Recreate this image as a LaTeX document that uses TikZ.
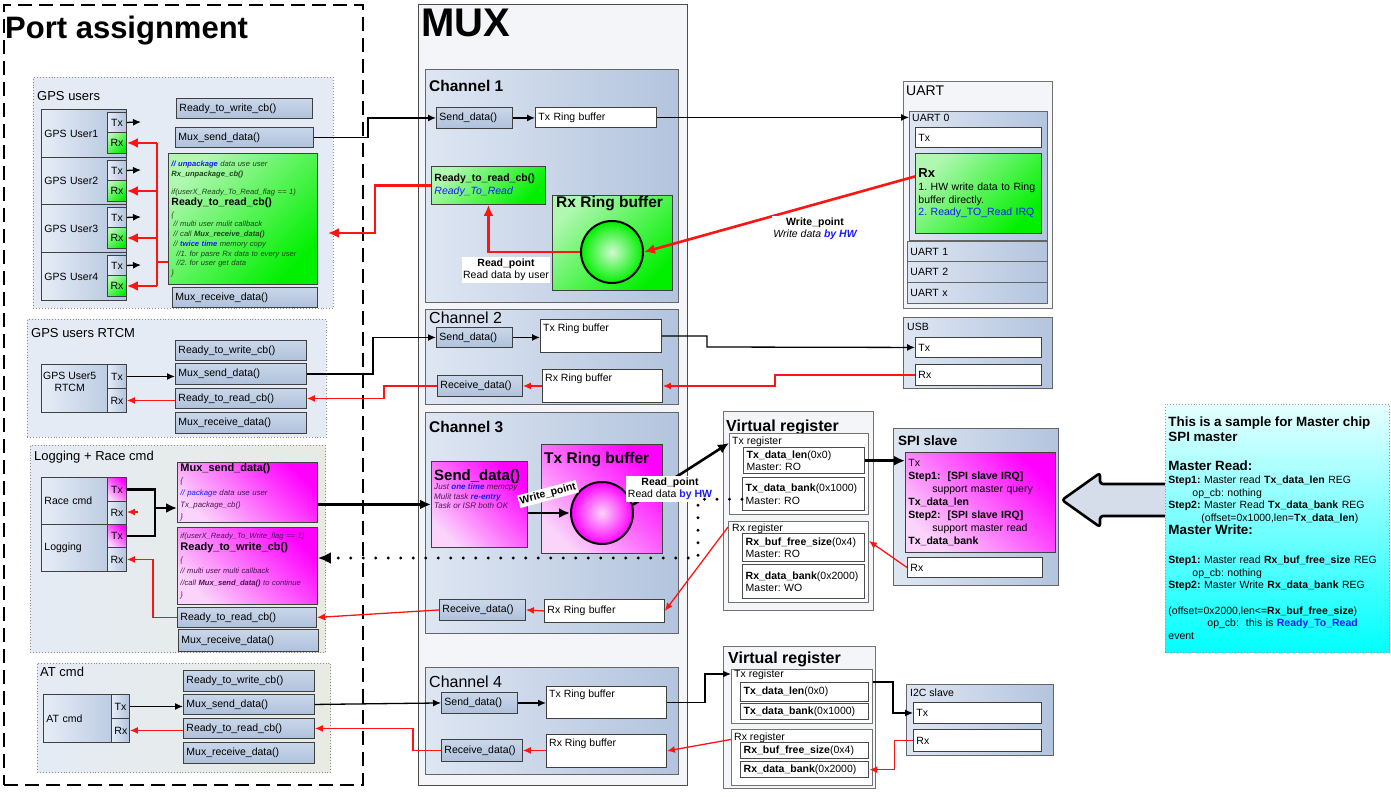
\documentclass[tikz,border=0pt]{standalone}
\usepackage{fontspec}
\setmainfont{Liberation Sans}
\usetikzlibrary{arrows.meta}
\frenchspacing

\definecolor{grpblue}{HTML}{E5EBF5}
\definecolor{grpgray}{HTML}{E8EBE2}
\definecolor{boxlight}{HTML}{E6EDF7}
\definecolor{boxdark}{HTML}{B1C3DD}
\definecolor{fnlight}{HTML}{CAD7EA}
\definecolor{fndark}{HTML}{AFC1DB}
\definecolor{chlight}{HTML}{DEE6F2}
\definecolor{chdark}{HTML}{B3C4DE}
\definecolor{muxbg}{HTML}{F3F5F9}
\definecolor{grnlight}{HTML}{B0F7B0}
\definecolor{grn}{HTML}{00F000}
\definecolor{maglight}{HTML}{FAD4FA}
\definecolor{mag}{HTML}{FF00FF}
\definecolor{cyanlight}{HTML}{E6FFFF}
\definecolor{cyn}{HTML}{00FFFF}
\definecolor{txtblue}{HTML}{1A1AFF}
\definecolor{linered}{HTML}{FF1414}
\definecolor{codegreen}{HTML}{1C451C}
\definecolor{codepurple}{HTML}{4A1452}
\definecolor{arrowfill}{HTML}{D5DCEA}

\newcommand{\fsz}[2]{\fontsize{#1}{#2}\selectfont}
\newcommand{\hlb}{\color{txtblue}\bfseries}
% box from corner (#3,#4) to corner (#5,#6)
\newcommand{\bxnode}[7][]{%
  \pgfmathsetlengthmacro\bxw{(#5-#3)*1pt}%
  \pgfmathsetlengthmacro\bxh{(#6-#4)*1pt}%
  \pgfmathsetlengthmacro\bxt{(#5-#3-6)*1pt}%
  \node[bxs,#1,minimum width=\bxw,minimum height=\bxh,text width=\bxt] (#2) at (#3,#4) {#7};}

\tikzset{
  bxs/.style={anchor=north west, inner xsep=3pt, inner ysep=0pt, align=left, draw=black!75, line width=0.9pt},
  grp/.style={draw=black!45, dotted, line width=0.9pt},
  fn/.style={top color=fnlight, bottom color=fndark},
  blk/.style={left color=boxlight, right color=boxdark},
  chan/.style={left color=chlight, right color=chdark, draw=black!60},
  wht/.style={fill=white},
  reg/.style={fill=white, draw=black!70, line width=1.4pt},
  grnbox/.style={left color=grnlight, right color=grn, shading angle=45},
  magbox/.style={left color=maglight, right color=mag, shading angle=135},
  tx/.style={anchor=west, inner sep=0pt, align=left},
  txn/.style={anchor=north west, inner sep=0pt, align=left},
  tag/.style={fill=white, inner sep=1.5pt, align=center},
  ar/.style={-{Latex[length=8pt,width=7pt]}, line width=1.3pt},
  arB/.style={-{Latex[length=11pt,width=10pt]}, line width=2.6pt},
  rd/.style={ar, draw=linered},
  rdB/.style={arB, draw=linered},
  rline/.style={draw=linered, line width=2.6pt},
  dotln/.style={line width=3.2pt, dash pattern=on 0pt off 12.5pt, line cap=round},
}

\begin{document}
\begin{tikzpicture}[x=1pt, y=-1pt, font=\fsz{10.5}{12.5}]
\useasboundingbox (0,0) rectangle (1391,797);

% Port assignment.
\bxnode[draw=black, dash pattern=on 14pt off 7pt, line width=1.6pt, fill=white]{pa}{3}{4}{362}{784}{}
\node[tx, font=\fsz{31}{34}\bfseries] (pa-t) at (5,31) {Port assignment};

% GPS users.
\bxnode[grp, fill=grpblue]{gps}{33}{77}{333}{308}{}
\node[tx, font=\fsz{13}{15}] (gps-t) at (37,96) {GPS users};
\bxnode[blk]{u1}{41}{109}{126}{157}{GPS User1}
\bxnode[blk]{u2}{41}{157}{126}{204}{GPS User2}
\bxnode[blk]{u3}{41}{204}{126}{252}{GPS User3}
\bxnode[blk]{u4}{41}{252}{126}{300}{GPS User4}
\bxnode[blk, align=center]{u1tx}{107}{112}{126}{132}{Tx}
\bxnode[grnbox, align=center]{u1rx}{107}{132}{126}{153}{Rx}
\bxnode[blk, align=center]{u2tx}{107}{160}{126}{180}{Tx}
\bxnode[grnbox, align=center]{u2rx}{107}{180}{126}{201}{Rx}
\bxnode[blk, align=center]{u3tx}{107}{207}{126}{227}{Tx}
\bxnode[grnbox, align=center]{u3rx}{107}{227}{126}{248}{Rx}
\bxnode[blk, align=center]{u4tx}{107}{255}{126}{275}{Tx}
\bxnode[grnbox, align=center]{u4rx}{107}{275}{126}{296}{Rx}
\bxnode[fn]{rw1}{176}{98}{312}{118}{Ready\_to\_write\_cb()}
\bxnode[fn]{ms1}{175}{127}{313}{147}{Mux\_send\_data()}
\bxnode[grnbox, font=\fsz{7.6}{9.7}\itshape, text=codegreen]{gcode}{168}{153}{317}{284}{%
{\hlb // unpackage} data use user\\
{\bfseries Rx\_unpackage\_cb()}\\[9pt]
if(userX\_Ready\_To\_Read\_flag~==~1)\\[1pt]
{\upshape\bfseries\color{black}\fsz{10.5}{12}Ready\_to\_read\_cb()}\\[2pt]
\{\\
\hspace*{2pt}// multi user mulit callback\\
\hspace*{2pt}// call {\bfseries Mux\_receive\_data()}\\
\hspace*{2pt}// {\hlb twice time} memory copy\\
\hspace*{5pt}//1. for pasre Rx data to every~user\\
\hspace*{5pt}//2. for user get data\\
\}}
\bxnode[fn]{mr1}{172}{287}{317}{307}{Mux\_receive\_data()}
\coordinate (t1) at (141,122);
\coordinate (t2) at (141,170);
\coordinate (t3) at (141,217);
\coordinate (t4) at (141,265);
\draw[ar] (u1tx.east) -- (t1);
\draw[ar] (u2tx.east) -- (t2);
\draw[ar] (u3tx.east) -- (t3);
\draw[ar] (u4tx.east) -- (t4);
\coordinate (bus) at (157,262);
\draw[rline] (gcode.west |- bus) -- (bus);
\draw[rline] (bus |- u1rx.east) -- (bus |- u4rx.east);
\draw[rdB] (bus |- u1rx.east) -- (u1rx.east);
\draw[rdB] (bus |- u2rx.east) -- (u2rx.east);
\draw[rdB] (bus |- u3rx.east) -- (u3rx.east);
\draw[rdB] (bus |- u4rx.east) -- (u4rx.east);

% GPS users RTCM.
\bxnode[grp, fill=grpblue]{rtcm}{27}{319}{326}{437}{}
\node[tx, font=\fsz{13}{15}] (rtcm-t) at (31,333) {GPS users RTCM};
\bxnode[blk]{u5}{41}{364}{126}{412}{}
\node[tx, align=center] (u5-t) at (43,382) {GPS User5\\RTCM};
\bxnode[blk, align=center]{u5tx}{107}{364}{126}{388}{Tx}
\bxnode[blk, align=center]{u5rx}{107}{388}{126}{412}{Rx}
\bxnode[fn]{rw5}{175}{340}{306}{360}{Ready\_to\_write\_cb()}
\bxnode[fn]{ms5}{175}{363}{306}{384}{Mux\_send\_data()}
\bxnode[fn]{rr5}{175}{388}{306}{408}{Ready\_to\_read\_cb()}
\bxnode[fn]{mr5}{175}{412}{306}{433}{Mux\_receive\_data()}
\draw[ar] (u5tx.east) -- (ms5.west |- u5tx.east);
\draw[rd] (rr5.west |- u5rx.east) -- (u5rx.east);

% Logging + Race cmd.
\bxnode[grp, left color=grpblue, right color=grpgray]{logg}{30}{445}{325}{652}{}
\node[tx, font=\fsz{13}{15}] (logg-t) at (34,457) {Logging + Race cmd};
\bxnode[blk]{race}{41}{477}{126}{524}{Race cmd}
\bxnode[magbox, align=center]{racetx}{107}{477}{126}{501}{Tx}
\bxnode[blk, align=center]{racerx}{107}{501}{126}{524}{Rx}
\bxnode[blk]{logu}{41}{524}{126}{571}{Logging}
\bxnode[magbox, align=center]{logtx}{107}{524}{126}{547}{Tx}
\bxnode[blk, align=center]{logrx}{107}{547}{126}{571}{Rx}
\bxnode[magbox, font=\fsz{7.8}{12}\itshape, text=codepurple]{msL}{177}{462}{317}{522}{%
{\upshape\bfseries\color{black}\fsz{11}{12}Mux\_send\_data()}\\
\{\\
{\color{txtblue}// package} data use user\\
Tx\_package\_cb()\\
\}}
\bxnode[magbox, font=\fsz{7.6}{11.8}\itshape, text=codepurple]{rwL}{177}{527}{317}{604}{%
if(userX\_Ready\_To\_Write\_flag~==~1)\\
{\upshape\bfseries\color{black}\fsz{11}{12}Ready\_to\_write\_cb()}\\
\{\\
// multi user multi callback\\
//call {\bfseries Mux\_send\_data()} to~continue\\
\}}
\bxnode[fn]{rrL}{177}{607}{316}{627}{Ready\_to\_read\_cb()}
\bxnode[fn]{mrL}{178}{629}{318}{651}{Mux\_receive\_data()}
\coordinate (lj) at (155,508);
\draw[line width=2.6pt] (racetx.east) -| (lj);
\draw[line width=2.6pt] (logtx.east) -| (lj);
\draw[arB] (lj) -- (msL.west |- lj);
\coordinate (rro) at (138,512);
\draw[rd] (rro) -- (racerx.east |- rro);
\draw[rd] (rrL.west) -| ([xshift=26pt]logrx.east) -- (logrx.east);

% AT cmd.
\bxnode[grp, left color=grpblue, right color=grpgray]{atg}{37}{663}{330}{772}{}
\node[tx, font=\fsz{13}{15}] (atg-t) at (40,672) {AT cmd};
\bxnode[blk]{atu}{43}{694}{129}{742}{AT cmd}
\bxnode[blk, align=center]{attx}{111}{694}{129}{718}{Tx}
\bxnode[blk, align=center]{atrx}{111}{718}{129}{742}{Rx}
\bxnode[fn]{rwA}{183}{670}{314}{691}{Ready\_to\_write\_cb()}
\bxnode[fn]{msA}{183}{694}{314}{714}{Mux\_send\_data()}
\bxnode[fn]{rrA}{183}{718}{314}{738}{Ready\_to\_read\_cb()}
\bxnode[fn]{mrA}{183}{742}{314}{763}{Mux\_receive\_data()}
\draw[ar] (attx.east) -- (msA.west |- attx.east);
\draw[rd] (rrA.west |- atrx.east) -- (atrx.east);

% MUX.
\bxnode[fill=muxbg, draw=black!70]{mux}{418}{4}{687}{785}{}
\node[tx, font=\fsz{40}{42}\bfseries] (mux-t) at (421,23) {MUX};

% Channel 1.
\bxnode[chan]{ch1}{425}{69}{678}{302}{}
\node[tx, font=\fsz{15.5}{17}\bfseries] (ch1-t) at (429,86) {Channel 1};
\bxnode[fn]{sd1}{436}{107}{512}{128}{Send\_data()}
\bxnode[wht]{tx1}{535}{107}{656}{127}{Tx Ring buffer}
\bxnode[grnbox]{rr1}{431}{166}{545}{204}{\textbf{Ready\_to\_read\_cb()}\\{\color{txtblue}\itshape Ready\_To\_Read}}
\bxnode[grnbox]{rxb1}{552}{195}{672}{290}{}
\node[tx, font=\fsz{15.5}{17}\bfseries] (rxb1-t) at (556,204) {Rx Ring buffer};
\node[circle, draw, line width=2pt, inner sep=0pt, minimum size=62pt, inner color=grnlight!60!white, outer color=grn] (c1) at (612,252) {};
\draw[rdB] (c1.west) -| (rr1.south);
\node[tag] (rp1) at (506,270) {\textbf{Read\_point}\\Read data by user};
\draw[ar] (sd1.east) -- (tx1.west |- sd1.east);
\draw[ar] (ms1.east) -| ([xshift=-68pt]sd1.west) -- (sd1.west);
\coordinate (k1) at (375,233);
\draw[rdB, shorten >=10pt] (rr1.west) -| (k1) -- (gcode.east |- k1);

% Channel 2.
\bxnode[chan]{ch2}{425}{309}{678}{404}{}
\node[tx, font=\fsz{16}{18}] (ch2-t) at (429,318) {Channel 2};
\bxnode[fn]{sd2}{436}{327}{512}{347}{Send\_data()}
\bxnode[wht]{tx2}{540}{319}{661}{352}{}
\node[tx] (tx2-t) at (543,329) {Tx Ring buffer};
\bxnode[fn]{re2}{437}{375}{522}{396}{Receive\_data()}
\bxnode[wht]{rx2}{542}{369}{662}{402}{}
\node[tx] (rx2-t) at (545,379) {Rx Ring buffer};
\draw[ar] (sd2.east) -- (tx2.west |- sd2.east);
\draw[rd] (rx2.west |- re2.east) -- (re2.east);
\draw[ar] (ms5.east) -| ([xshift=-63pt]sd2.west) -- (sd2.west);
\draw[rd] (re2.west) -| ([xshift=77pt]rr5.east) -- (rr5.east);

% Channel 3.
\bxnode[chan]{ch3}{425}{412}{678}{633}{}
\node[tx, font=\fsz{15.5}{17}\bfseries] (ch3-t) at (429,427) {Channel 3};
\bxnode[magbox]{sd3}{431}{461}{527}{547}{}
\node[txn, font=\fsz{8.1}{9.6}\itshape, text=codepurple] (sd3-t) at (434,469) {{\upshape\bfseries\color{black}\fsz{15}{16}Send\_data()}\\Just {\hlb one time} memcpy\\Mulit task {\hlb re-entry}\\Task or ISR both OK};
\bxnode[magbox]{tx3}{541}{444}{662}{553}{}
\node[tx, font=\fsz{15.5}{17}\bfseries] (tx3-t) at (544,460) {Tx Ring buffer};
\node[circle, draw, line width=2pt, inner sep=0pt, minimum size=62pt, inner color=maglight, outer color=mag] (c3) at (602,513) {};
\draw[arB] (sd3.east |- c3.west) -- (c3.west);
\node[tag, rotate=15, font=\fsz{10.5}{12}\bfseries] (wp3) at (548,494) {Write\_point};
\bxnode[fn]{re3}{439}{599}{525}{620}{Receive\_data()}
\bxnode[wht]{rx3}{544}{599}{664}{622}{Rx Ring buffer}
\draw[rd] (rx3.west) -- (re3.east);
\draw[rd] (re3.west) -- (rrL.east);
\draw[arB] (msL.east |- sd3.west) -- (sd3.west);

% Channel 4.
\bxnode[chan]{ch4}{425}{667}{678}{774}{}
\node[tx, font=\fsz{16}{18}] (ch4-t) at (429,682) {Channel 4};
\bxnode[fn]{sd4}{441}{692}{517}{713}{Send\_data()}
\bxnode[wht]{tx4}{546}{686}{666}{718}{}
\node[tx] (tx4-t) at (549,695) {Tx Ring buffer};
\bxnode[fn]{re4}{441}{739}{522}{761}{Receive\_data()}
\bxnode[wht]{rx4}{546}{734}{666}{767}{}
\node[tx] (rx4-t) at (549,744) {Rx Ring buffer};
\draw[ar] (msA.east) -- (sd4.west);
\draw[rd] (re4.west) -| ([xshift=98pt]rrA.east) -- (rrA.east);
\draw[ar] (sd4.east) -- (tx4.west |- sd4.east);
\draw[rd] (rx4.west |- re4.east) -- (re4.east);

% UART.
\bxnode[fill=muxbg, draw=black!55]{uart}{903}{81}{1052}{308}{}
\node[tx, font=\fsz{14}{16}] (uart-t) at (906,91) {UART};
\bxnode[chan]{uart0}{909}{111}{1047}{240}{}
\node[tx] (uart0-t) at (912,118) {UART 0};
\bxnode[wht]{utx}{915}{127}{1041}{147}{Tx}
\bxnode[grnbox, font=\fsz{10.5}{12.7}]{urx}{915}{153}{1041}{233}{{\fsz{13}{14}\bfseries Rx}\\1. HW write data to~Ring\\buffer directly.\\{\color{txtblue}2. Ready\_TO\_Read IRQ}}
\bxnode[chan]{uart1}{907}{241}{1047}{261}{UART 1}
\bxnode[chan]{uart2}{907}{261}{1047}{282}{UART 2}
\bxnode[chan]{uartx}{907}{282}{1047}{303}{UART x}
\draw[ar] (tx1.east) -- (uart0.west |- tx1.east);
\draw[rdB] ([yshift=17pt]urx.west) -- (c1.east);
\node[tag] (wp1) at (815,229) {\textbf{Write\_point}\\\textit{Write data {\hlb by HW}}};

% USB.
\bxnode[chan]{usb}{903}{317}{1052}{388}{}
\node[tx] (usb-t) at (907,327) {USB};
\bxnode[wht]{usbtx}{915}{337}{1041}{357}{Tx}
\bxnode[wht]{usbrx}{915}{364}{1041}{385}{Rx}
\coordinate (k2) at (707,347);
\draw[ar] (tx2.east) -| (k2) -- (usbtx.west);
\coordinate (k3) at (775,386);
\draw[rd] (usbrx.west) -| (k3) -- (rx2.east |- k3);

% Virtual register, SPI.
\bxnode[fill=muxbg, draw=black!55]{vr1}{723}{411}{873}{610}{}
\node[tx, font=\fsz{16}{18}\bfseries] (vr1-t) at (726,427) {Virtual register};
\bxnode[wht, draw=black!55]{vtxr}{729}{433}{868}{514}{}
\node[tx] (vtxr-t) at (732,442) {Tx register};
\bxnode[reg]{vtl}{743}{447}{864}{473}{\textbf{Tx\_data\_len}(0x0)\\Master: RO}
\bxnode[reg]{vtb}{742}{477}{864}{510}{\textbf{Tx\_data\_bank}(0x1000)\\Master: RO}
\bxnode[wht, draw=black!55]{vrxr}{728}{521}{868}{602}{}
\node[tx] (vrxr-t) at (732,529) {Rx register};
\bxnode[reg]{vrf}{742}{533}{864}{561}{\textbf{Rx\_buf\_free\_size}(0x4)\\Master: RO}
\bxnode[reg]{vrd}{742}{564}{864}{598}{\textbf{Rx\_data\_bank}(0x2000)\\Master: WO}
\bxnode[chan]{spi}{893}{428}{1058}{585}{}
\node[tx, font=\fsz{13.5}{15}\bfseries] (spi-t) at (898,441) {SPI slave};
\bxnode[magbox, font=\fsz{10.5}{13}]{spitx}{905}{452}{1055}{552}{Tx\\\textbf{Step1:~~[SPI slave IRQ]}\\\hspace*{24pt}support master query\\\textbf{Tx\_data\_len}\\\textbf{Step2:~~[SPI slave IRQ]}\\\hspace*{24pt}support master read\\\textbf{Tx\_data\_bank}}
\bxnode[wht]{spirx}{907}{557}{1042}{577}{Rx}
\draw[arB] (vtl.east) -- (spitx.west |- vtl.east);
\draw[rd] (spirx.west) -- ([yshift=21pt]vrxr.east);
\draw[rd] ([yshift=-6pt]vrxr.north west) -- (rx3.east);
\draw[arB] (c3.15) -- ([yshift=-10pt]vtxr.north west);
\node[tag] (rp3) at (670,489) {\textbf{Read\_point}\\Read data {\hlb by HW}};
\coordinate (dc) at (698,558);
\draw[dotln, -{Latex[length=13pt,width=12pt]}] ([yshift=-5pt]vtb.west) -| (dc) -- (rwL.east |- dc);

% Virtual register, I2C.
\bxnode[fill=muxbg, draw=black!55]{vr2}{723}{646}{875}{788}{}
\node[tx, font=\fsz{16}{18}\bfseries] (vr2-t) at (728,659) {Virtual register};
\bxnode[wht, draw=black!55]{vtx2}{731}{669}{872}{723}{}
\node[tx] (vtx2-t) at (734,675) {Tx register};
\bxnode[reg]{vtl2}{740}{682}{868}{701}{\textbf{Tx\_data\_len}(0x0)}
\bxnode[reg]{vtb2}{740}{703}{868}{719}{\textbf{Tx\_data\_bank}(0x1000)}
\bxnode[wht, draw=black!55]{vrx2}{731}{729}{872}{785}{}
\node[tx] (vrx2-t) at (734,738) {Rx register};
\bxnode[reg]{vrf2}{740}{742}{868}{758}{\textbf{Rx\_buf\_free\_size}(0x4)}
\bxnode[reg]{vrd2}{740}{761}{868}{777}{\textbf{Rx\_data\_bank}(0x2000)}
\bxnode[chan]{i2c}{906}{684}{1053}{755}{}
\node[tx] (i2c-t) at (910,693) {I2C slave};
\bxnode[wht]{i2ctx}{913}{702}{1041}{723}{Tx}
\bxnode[wht]{i2crx}{913}{729}{1041}{751}{Rx}
\coordinate (k4) at (705,674);
\draw[ar] (tx4.east) -| (k4) -- (vtx2.west |- k4);
\coordinate (k5) at (893,682);
\draw[ar] (vtx2.east |- k5) -- (k5) |- (i2ctx.west);
\draw[rd] (i2crx.west) -| ([xshift=25pt]vrd2.east) -- (vrd2.east);
\draw[rd] ([yshift=18pt]vrx2.west) -- (rx4.east);

% Master chip note.
\draw[line width=2.6pt, fill=arrowfill, rounded corners=3pt] (1175,484) -- (1100,484) -- (1100,473) -- (1062,500) -- (1100,527) -- (1100,516) -- (1175,516);
\bxnode[draw=black!40, dotted, top color=cyanlight, bottom color=cyn, font=\fsz{10.5}{12.8}]{note}{1165}{404}{1389}{652}{%
{\fsz{13.4}{15}\bfseries This is a sample for Master chip}\\[2pt]
{\fsz{13.4}{15}\bfseries SPI master}\\[16pt]
{\fsz{13.4}{15}\bfseries Master Read:}\\
\textbf{Step1:} Master read \textbf{Tx\_data\_len} REG\\
\hspace*{24pt}op\_cb: nothing\\
\textbf{Step2:} Master Read \textbf{Tx\_data\_bank} REG\\
\hspace*{33pt}(offset=0x1000,len=\textbf{Tx\_data\_len})\\
{\fsz{13.4}{15}\bfseries Master Write:}\\[16pt]
\textbf{Step1:} Master read \textbf{Rx\_buf\_free\_size}~REG\\
\hspace*{24pt}op\_cb: nothing\\
\textbf{Step2:} Master Write \textbf{Rx\_data\_bank} REG\\[12.5pt]
(offset=0x2000,len<=\textbf{Rx\_buf\_free\_size})\\
\hspace*{39pt}op\_cb:~~this is {\hlb Ready\_To\_Read}\\
event}
\end{tikzpicture}
\end{document}
